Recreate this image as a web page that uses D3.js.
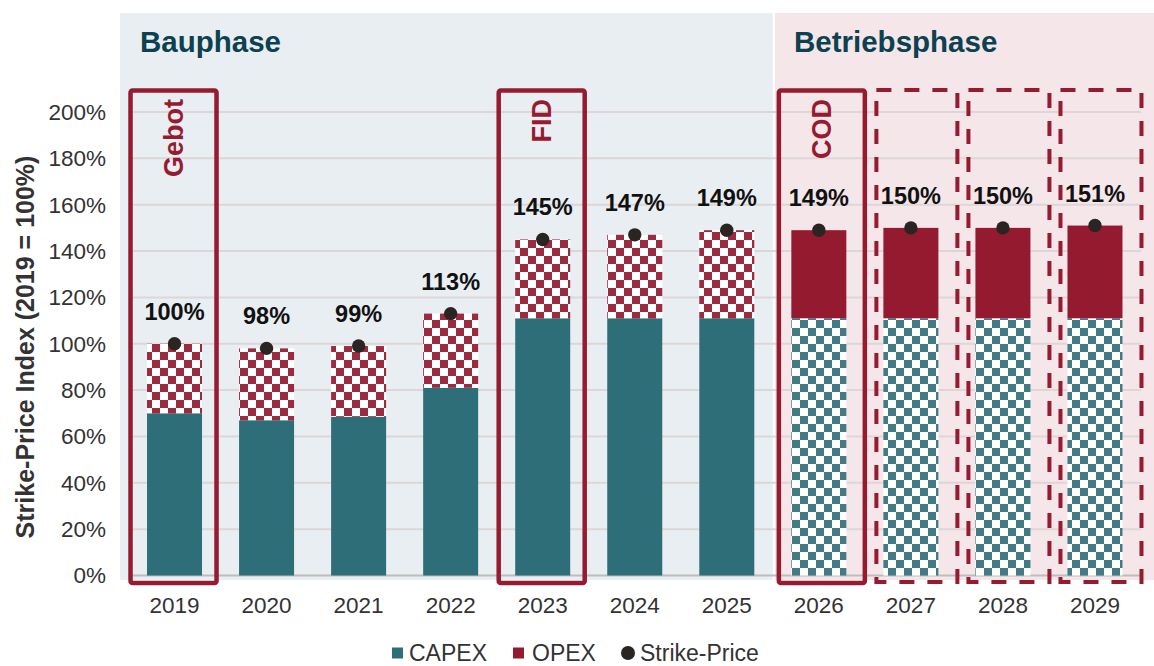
<!DOCTYPE html>
<html>
<head>
<meta charset="utf-8">
<script src="https://cdn.jsdelivr.net/npm/d3@7"></script>
<style>
  body { margin: 0; background: #fff; }
  svg { display: block; font-family: "Liberation Sans", Arial, sans-serif; }
</style>
</head>
<body>
<script>
// data
const years = ["2019", "2020", "2021", "2022", "2023", "2024", "2025", "2026", "2027", "2028", "2029"];
const capex = [70, 67, 68.5, 81, 111, 111, 111, 111, 111, 111, 111];
const strike = [100, 98, 99, 113, 145, 147, 149, 149, 150, 150, 151];
const phase = ["bau", "bau", "bau", "bau", "bau", "bau", "bau", "betrieb", "betrieb", "betrieb", "betrieb"];
const yTicks = [0, 20, 40, 60, 80, 100, 120, 140, 160, 180, 200];
const milestoneYears = ["2019", "2023", "2026"];
const milestoneLabels = ["Gebot", "FID", "COD"];
const forecastYears = ["2027", "2028", "2029"];

const width = 1154;
const height = 666;

const teal = "#2e6e78";
const red = "#941b2f";
const boxRed = "#961b30";

const svg = d3.select("body").append("svg")
  .attr("width", width)
  .attr("height", height);

const defs = svg.append("defs");

function checker(id, color) {
  const p = defs.append("pattern")
    .attr("id", id)
    .attr("patternUnits", "userSpaceOnUse")
    .attr("width", 16)
    .attr("height", 16);
  p.append("rect").attr("width", 16).attr("height", 16).attr("fill", "#fff");
  p.append("rect").attr("width", 8).attr("height", 8).attr("fill", color);
  p.append("rect").attr("x", 8).attr("y", 8).attr("width", 8).attr("height", 8).attr("fill", color);
}
checker("chkRed", "#9d2b40");
checker("chkTeal", "#427b84");

// scales
const x = d3.scaleBand().domain(years).range([128.5, 1141]).padding(0);
const y = d3.scaleLinear().domain([0, 200]).range([575.5, 112]);
const barW = 55;
const cx = d => x(d) + x.bandwidth() / 2;

// phase panels
const splitX = x("2026");
svg.append("rect")
  .attr("x", 120).attr("y", 13)
  .attr("width", splitX - 120).attr("height", 567)
  .attr("fill", "#e8eef1");
svg.append("rect")
  .attr("x", splitX + 2).attr("y", 13)
  .attr("width", width - splitX - 2).attr("height", 567)
  .attr("fill", "#f4e6e9");

svg.append("text")
  .attr("x", 140).attr("y", 52)
  .attr("font-size", 29.5).attr("font-weight", "bold")
  .attr("fill", "#0d4150")
  .text("Bauphase");
svg.append("text")
  .attr("x", 794).attr("y", 52)
  .attr("font-size", 29.5).attr("font-weight", "bold")
  .attr("fill", "#0d4150")
  .text("Betriebsphase");

// gridlines
svg.append("g")
  .selectAll("line")
  .data(yTicks.filter(t => t > 0))
  .enter()
  .append("line")
  .attr("x1", 128.5).attr("x2", 1141)
  .attr("y1", d => y(d)).attr("y2", d => y(d))
  .attr("stroke", "#ddd6d7")
  .attr("stroke-width", 2);

svg.append("line")
  .attr("x1", 128.5).attr("x2", 1141)
  .attr("y1", y(0)).attr("y2", y(0))
  .attr("stroke", "#bdbdbd")
  .attr("stroke-width", 2);

// y tick labels
svg.append("g")
  .selectAll("text")
  .data(yTicks)
  .enter()
  .append("text")
  .attr("x", 106)
  .attr("y", d => y(d))
  .attr("dy", "0.35em")
  .attr("text-anchor", "end")
  .attr("font-size", 22.5)
  .attr("fill", "#333")
  .text(d => d + "%");

// x tick labels
svg.append("g")
  .selectAll("text")
  .data(years)
  .enter()
  .append("text")
  .attr("x", d => cx(d))
  .attr("y", 613)
  .attr("text-anchor", "middle")
  .attr("font-size", 22.5)
  .attr("fill", "#333")
  .text(d => d);

// y axis title
svg.append("text")
  .attr("transform", "translate(34,347) rotate(-90)")
  .attr("text-anchor", "middle")
  .attr("font-size", 25)
  .attr("font-weight", "bold")
  .attr("fill", "#333")
  .text("Strike-Price Index (2019 = 100%)");

// bars
const rows = years.map((yr, i) => ({ year: yr, capex: capex[i], total: strike[i], phase: phase[i] }));

svg.append("g")
  .selectAll("rect")
  .data(rows)
  .enter()
  .append("rect")
  .attr("x", d => cx(d.year) - barW / 2)
  .attr("y", d => y(d.capex))
  .attr("width", barW)
  .attr("height", d => y(0) - y(d.capex))
  .attr("fill", d => d.phase === "bau" ? teal : "url(#chkTeal)");

svg.append("g")
  .selectAll("rect")
  .data(rows)
  .enter()
  .append("rect")
  .attr("x", d => cx(d.year) - barW / 2)
  .attr("y", d => y(d.total))
  .attr("width", barW)
  .attr("height", d => y(d.capex) - y(d.total))
  .attr("fill", d => d.phase === "bau" ? "url(#chkRed)" : red);

// milestone boxes
milestoneYears.forEach((yr, i) => {
  const c = cx(yr) + (yr === "2026" ? 3 : -1);
  svg.append("rect")
    .attr("x", c - 43).attr("y", 90.5)
    .attr("width", 86).attr("height", 492.5)
    .attr("rx", 2)
    .attr("fill", "none")
    .attr("stroke", boxRed)
    .attr("stroke-width", 4.5);
  svg.append("text")
    .attr("transform", "translate(" + c + ",99) rotate(-90)")
    .attr("dy", "0.35em")
    .attr("text-anchor", "end")
    .attr("font-size", 27)
    .attr("font-weight", "bold")
    .attr("fill", boxRed)
    .text(milestoneLabels[i]);
});

forecastYears.forEach(yr => {
  const c = cx(yr) + 6;
  svg.append("rect")
    .attr("x", c - 40.5).attr("y", 90)
    .attr("width", 81).attr("height", 492)
    .attr("fill", "none")
    .attr("stroke", boxRed)
    .attr("stroke-width", 4)
    .attr("stroke-dasharray", "15,13");
});

// strike-price dots + labels
svg.append("g")
  .selectAll("circle")
  .data(rows)
  .enter()
  .append("circle")
  .attr("cx", d => cx(d.year))
  .attr("cy", d => y(d.total))
  .attr("r", 6.7)
  .attr("fill", "#2a2522");

svg.append("g")
  .selectAll("text")
  .data(rows)
  .enter()
  .append("text")
  .attr("x", d => cx(d.year))
  .attr("y", d => y(d.total) - 24)
  .attr("text-anchor", "middle")
  .attr("font-size", 23.5)
  .attr("font-weight", "bold")
  .attr("fill", "#111")
  .text(d => d.total + "%");

// legend
const legend = svg.append("g").attr("font-size", 23).attr("fill", "#333");
legend.append("rect").attr("x", 392).attr("y", 647.5).attr("width", 11).attr("height", 11).attr("fill", teal);
legend.append("text").attr("x", 409).attr("y", 661).text("CAPEX");
legend.append("rect").attr("x", 513).attr("y", 647.5).attr("width", 11).attr("height", 11).attr("fill", red);
legend.append("text").attr("x", 532).attr("y", 661).text("OPEX");
legend.append("circle").attr("cx", 628).attr("cy", 653).attr("r", 7).attr("fill", "#2a2522");
legend.append("text").attr("x", 640).attr("y", 661).text("Strike-Price");
</script>
</body>
</html>
